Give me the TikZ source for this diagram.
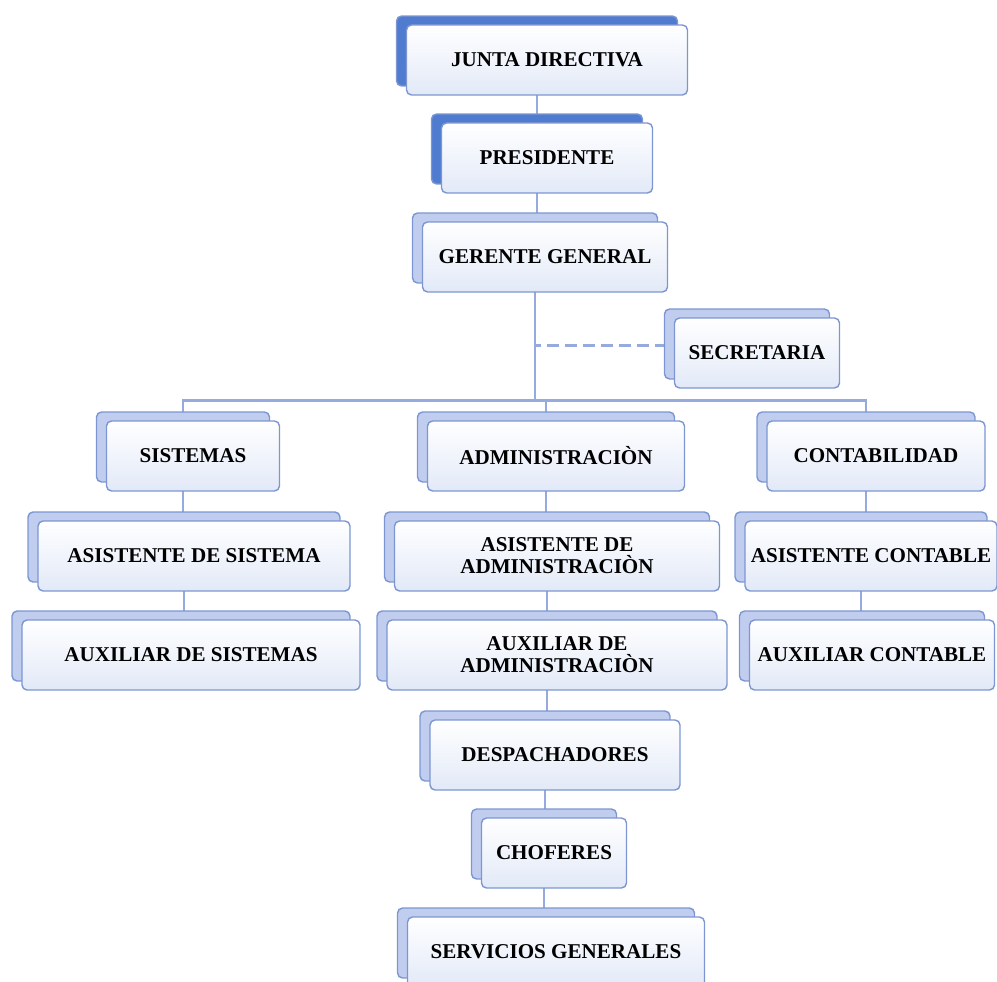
\documentclass[tikz,border=0pt]{standalone}
\usepackage{fontspec}
\setmainfont{Liberation Serif}
\usetikzlibrary{positioning, shadows, backgrounds}
\definecolor{edge}{RGB}{125,150,210}
\definecolor{slab}{RGB}{192,205,238}
\definecolor{slabdark}{RGB}{80,124,208}
\definecolor{paper}{RGB}{226,233,247}
\definecolor{wire}{RGB}{150,170,222}

\begin{document}
\begin{tikzpicture}[x=0.02cm, y=-0.02cm, every node/.style={font=\bfseries\fontsize{12}{12.5}\selectfont}]
  % Styles
  \tikzset{
    unit/.style = {draw=edge, thick, rounded corners=1mm, top color=white, bottom color=paper,
      minimum height=14mm, align=center, inner sep=2pt,
      copy shadow={shadow xshift=-2mm, shadow yshift=1.8mm, fill=#1, draw=edge}},
    unit/.default = slab,
    link/.style = {draw=wire, line width=1.5pt}
  }

  \useasboundingbox (0,0) rectangle (997,982);

  % Top of the chart
  \node[unit=slabdark, minimum width=5.62cm] (junta) at (547,60) {JUNTA DIRECTIVA};
  \node[unit=slabdark, minimum width=4.22cm] (presidente) at (547,158) {PRESIDENTE};
  \node[unit, minimum width=4.9cm] (gerente) at (545,257) {GERENTE GENERAL};
  \node[unit, minimum width=3.3cm] (secretaria) at (757,353) {SECRETARIA};

  % Departments
  \node[unit, minimum width=3.46cm] (sistemas) at (193,456) {SISTEMAS};
  \node[unit, minimum width=5.14cm] (administracion) at (556,456) {ADMINISTRACIÒN};
  \node[unit, minimum width=4.36cm] (contabilidad) at (876,456) {CONTABILIDAD};

  % Sistemas column
  \node[unit, minimum width=6.24cm] (asistsis) at (194,556) {ASISTENTE DE SISTEMA};
  \node[unit, minimum width=6.76cm] (auxsis) at (191,655) {AUXILIAR DE SISTEMAS};

  % Administracion column
  \node[unit, minimum width=6.5cm] (asistadm) at (557,556) {ASISTENTE DE\\ADMINISTRACIÒN};
  \node[unit, minimum width=6.8cm] (auxadm) at (557,655) {AUXILIAR DE\\ADMINISTRACIÒN};
  \node[unit, minimum width=5.0cm] (despachadores) at (555,755) {DESPACHADORES};
  \node[unit, minimum width=2.9cm] (choferes) at (554,853) {CHOFERES};
  \node[unit, minimum width=5.94cm] (servicios) at (556,952) {SERVICIOS GENERALES};

  % Contabilidad column
  \node[unit, minimum width=5.04cm] (asistcon) at (871,556) {ASISTENTE CONTABLE};
  \node[unit, minimum width=4.9cm] (auxcon) at (872,655) {AUXILIAR CONTABLE};

  % Connections
  \begin{scope}[on background layer]
    \coordinate (trunk) at ([xshift=-2mm]gerente.center);
    \coordinate (bus) at ([yshift=4mm]administracion.north);

    \foreach \a/\b in {junta/presidente, presidente/gerente,
        sistemas/asistsis, asistsis/auxsis,
        administracion/asistadm, asistadm/auxadm, auxadm/despachadores,
        despachadores/choferes, choferes/servicios,
        contabilidad/asistcon, asistcon/auxcon}
      \draw[link] ([xshift=-2mm]\a.center) -- ([xshift=-2mm]\a.center |- \b.center);

    \draw[link] (trunk) -- (trunk |- bus);
    \draw[link] ([xshift=-2mm]sistemas.center) |- (bus) -| ([xshift=-2mm]contabilidad.center);
    \draw[link] ([xshift=-2mm]administracion.center) -- ([xshift=-2mm]administracion.center |- bus);
    \draw[link, dash pattern=on 2.4mm off 1.2mm] ([yshift=1.5mm]secretaria.center) -- ([yshift=1.5mm]secretaria.center -| trunk);
  \end{scope}

\end{tikzpicture}
\end{document}
